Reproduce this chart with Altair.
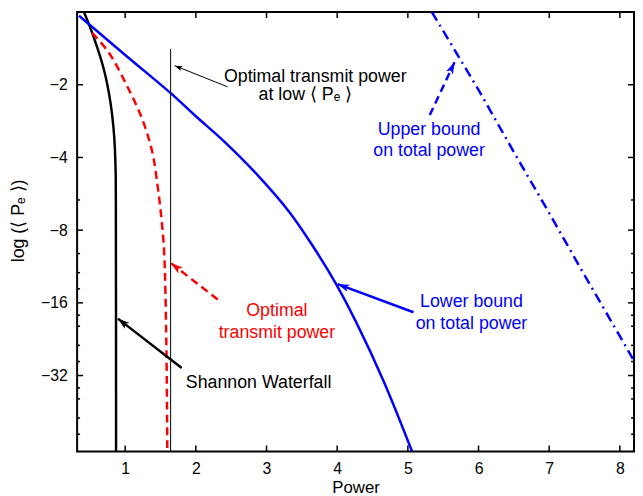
import math
import altair as alt
import pandas as pd

# ---------------- data ----------------
X_DOMAIN = [0.32, 8.2]
Y_DOMAIN = [1, 66]          # -log(<Pe>), shown reversed on a log axis
PLOT_W, PLOT_H = 564, 445

x_ticks = [1, 2, 3, 4, 5, 6, 7, 8]
y_major = [2, 4, 8, 16, 32]
y_minor = [6, 10, 12, 14, 18, 20, 24, 28, 36, 40, 48, 56]

shannon_x = [0.417, 0.533, 0.697, 0.79, 0.843, 0.864, 0.868, 0.871]
shannon_y = [1.0, 1.22, 1.72, 2.35, 3.23, 4.43, 6.04, 66]

optimal_x = [0.533, 0.767, 1.018, 1.24, 1.382, 1.456, 1.512, 1.55, 1.582, 1.596]
optimal_y = [1.22, 1.47, 2.0, 2.77, 3.78, 5.17, 7.1, 9.7, 23, 66]

lower_x = [0.347, 1.0, 1.652, 2.0, 2.399, 2.864, 3.33, 3.657, 3.983, 4.263, 4.654, 5.06]
lower_y = [1.036, 1.505, 2.177, 2.7, 3.43, 4.70, 6.77, 9.33, 13.35, 19.1, 33.6, 66]

upper_x = [5.34, 6.0, 6.5, 7.0, 7.5, 8.0, 8.2]
upper_y = [1.0, 2.1, 3.8, 6.8, 12.3, 22, 27.8]

lowpe_x = [1.643, 1.643]
lowpe_y = [1.42, 66]

# annotation arrows: start -> end (tip)
arrow_x0 = [2.45, 5.31, 5.08, 2.31, 1.80]
arrow_y0 = [2.04, 2.67, 17.5, 15.5, 29.8]
arrow_x1 = [1.70, 5.66, 4.007, 1.652, 0.897]
arrow_y1 = [1.667, 1.615, 13.39, 10.98, 18.6]
arrow_color = ["black", "#0000FF", "#0000FF", "#FF0000", "black"]
arrow_kind = ["thin", "dashed", "solid", "dashed", "solid"]

text_x = [3.69, 3.55, 5.30, 5.30, 5.90, 5.90, 3.147, 3.147, 2.888]
text_y = [1.86, 2.21, 3.08, 3.77, 15.9, 19.65, 17.3, 21.4, 34.3]
text_s = ["Optimal transmit power", "at low \u27e8 P\u2091 \u27e9",
          "Upper bound", "on total power",
          "Lower bound", "on total power",
          "Optimal", "transmit power",
          "Shannon Waterfall"]
text_c = ["black", "black", "#0000FF", "#0000FF", "#0000FF", "#0000FF",
          "#FF0000", "#FF0000", "black"]

# ---------------- helpers ----------------
def sdf(xs, ys):
    return pd.DataFrame({"x": xs, "y": ys, "i": list(range(len(xs)))})

def px(x):
    return (x - X_DOMAIN[0]) / (X_DOMAIN[1] - X_DOMAIN[0]) * PLOT_W

def py(v):
    return math.log(v / Y_DOMAIN[0]) / math.log(Y_DOMAIN[1] / Y_DOMAIN[0]) * PLOT_H

angles = []
for a, b, c, d in zip(arrow_x0, arrow_y0, arrow_x1, arrow_y1):
    dx = px(c) - px(a)
    dy = py(d) - py(b)
    angles.append(math.degrees(math.atan2(dx, -dy)) % 360)

arrows = pd.DataFrame({
    "x": arrow_x0, "y": arrow_y0, "x2": arrow_x1, "y2": arrow_y1,
    "c": arrow_color, "k": arrow_kind, "ang": angles,
    "sz": [150 if k == "thin" else 330 for k in arrow_kind],
})
texts = pd.DataFrame({"x": text_x, "y": text_y, "t": text_s, "c": text_c})

xs = alt.Scale(domain=X_DOMAIN, nice=False, zero=False)
ys = alt.Scale(type="log", domain=Y_DOMAIN, reverse=True, nice=False)

ax_bottom = alt.Axis(values=x_ticks, title="Power", ticks=False,
                     labelPadding=9, titlePadding=4, domain=False, grid=False)
ax_left = alt.Axis(values=y_major, title="log (\u27e8 P\u2091 \u27e9)",
                   labelExpr="'\u2212' + datum.value", ticks=False,
                   labelPadding=10, titlePadding=13, titleY=211, titleFontSize=18,
                   labelOverlap=False, domain=False, grid=False)

def X(axis=None):
    return alt.X("x:Q", scale=xs, axis=axis)

def Y(axis=None):
    return alt.Y("y:Q", scale=ys, axis=axis)

shannon = alt.Chart(sdf(shannon_x, shannon_y)).mark_line(
    color="black", strokeWidth=2.5, clip=True, interpolate="catmull-rom").encode(
    x=X(ax_bottom), y=Y(ax_left), order="i:Q")

optimal = alt.Chart(sdf(optimal_x, optimal_y)).mark_line(
    color="#FF0000", strokeWidth=2.5, strokeDash=[8, 5], clip=True,
    interpolate="catmull-rom").encode(x=X(), y=Y(), order="i:Q")

lower = alt.Chart(sdf(lower_x, lower_y)).mark_line(
    color="#0000FF", strokeWidth=2.5, clip=True, interpolate="catmull-rom").encode(
    x=X(), y=Y(), order="i:Q")

upper = alt.Chart(sdf(upper_x, upper_y)).mark_line(
    color="#0000FF", strokeWidth=2.5, strokeDash=[10, 5, 2, 5], clip=True).encode(
    x=X(), y=Y(), order="i:Q")

lowpe = alt.Chart(sdf(lowpe_x, lowpe_y)).mark_line(
    color="black", strokeWidth=1, clip=True).encode(
    x=X(), y=Y(), order="i:Q")

# inward tick marks on all four sides of the box
xt = alt.Chart(pd.DataFrame({"x": x_ticks}))
ytM = alt.Chart(pd.DataFrame({"y": y_major}))
ytm = alt.Chart(pd.DataFrame({"y": y_minor}))
tick_kw = dict(color="black", thickness=1.5, opacity=1)
ticks = [
    xt.mark_tick(orient="vertical", size=6, **tick_kw).encode(x=X(), y=alt.value(PLOT_H - 3)),
    xt.mark_tick(orient="vertical", size=6, **tick_kw).encode(x=X(), y=alt.value(3)),
    ytM.mark_tick(orient="horizontal", size=6, **tick_kw).encode(y=Y(), x=alt.value(3)),
    ytM.mark_tick(orient="horizontal", size=6, **tick_kw).encode(y=Y(), x=alt.value(PLOT_W - 3)),
    ytm.mark_tick(orient="horizontal", size=3, **tick_kw).encode(y=Y(), x=alt.value(1.5)),
    ytm.mark_tick(orient="horizontal", size=3, **tick_kw).encode(y=Y(), x=alt.value(PLOT_W - 1.5)),
]

arrow_base = alt.Chart(arrows)

def shaft(kind, width, dash=None):
    kw = dict(strokeWidth=width)
    if dash:
        kw["strokeDash"] = dash
    return arrow_base.transform_filter(f"datum.k == '{kind}'").mark_rule(**kw).encode(
        x=X(), y=Y(), x2="x2:Q", y2="y2:Q",
        color=alt.Color("c:N", scale=None))

HEAD = "M0,0 L0.42,1.3 L0,1.0 L-0.42,1.3 Z"
heads = arrow_base.mark_point(shape=HEAD, filled=True, opacity=1, strokeWidth=0).encode(
    x=alt.X("x2:Q", scale=xs, axis=None), y=alt.Y("y2:Q", scale=ys, axis=None),
    angle=alt.Angle("ang:Q", scale=None), size=alt.Size("sz:Q", scale=None),
    color=alt.Color("c:N", scale=None))

labels = alt.Chart(texts).mark_text(fontSize=18, align="center", baseline="middle").encode(
    x=X(), y=Y(), text="t:N", color=alt.Color("c:N", scale=None))

chart = alt.layer(
    shannon, optimal, lower, upper, lowpe, *ticks,
    shaft("solid", 2.5), shaft("dashed", 2.5, [8, 5]), shaft("thin", 1),
    heads, labels,
).resolve_axis(x="independent", y="independent").properties(
    width=PLOT_W, height=PLOT_H, autosize="none",
    padding={"left": 70, "top": 1, "right": 1, "bottom": 42},
).configure(font="Liberation Sans").configure_view(
    stroke="black", strokeWidth=2
).configure_axis(
    labelFontSize=16, titleFontSize=17, labelColor="black", titleColor="black",
    titleFontWeight="normal",
    labelFont="Liberation Sans", titleFont="Liberation Sans",
)

chart.save("out.html", embed_options={"renderer": "svg", "actions": False})
